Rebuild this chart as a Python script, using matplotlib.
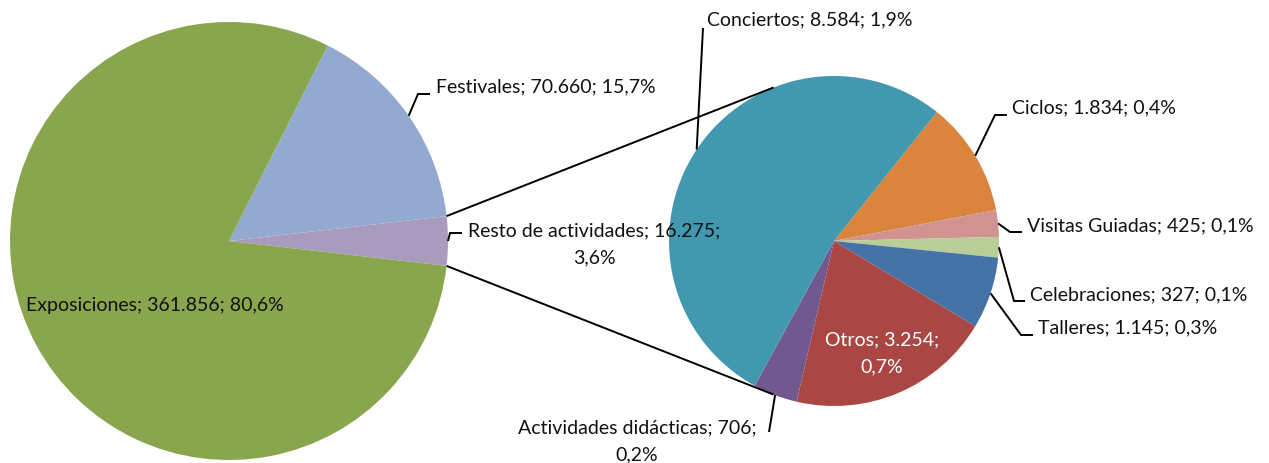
import numpy as np
import matplotlib
matplotlib.use("Agg")
import matplotlib.pyplot as plt

plt.rcParams['font.family'] = ['Lato', 'DejaVu Sans']

# main pie
main_labels = ["Resto de actividades", "Festivales", "Exposiciones"]
main_values = [16275, 70660, 361856]
main_colors = ["#A99BBD", "#93A9CF", "#89A54E"]

# secondary pie (breakdown of "Resto de actividades"), clockwise from the top right
sub_labels = ["Ciclos", "Visitas Guiadas", "Celebraciones", "Talleres", "Otros",
              "Actividades didácticas", "Conciertos"]
sub_values = [1834, 425, 327, 1145, 3254, 706, 8584]
sub_colors = ["#DB843D", "#D19392", "#B9CD96", "#4572A7", "#AA4643", "#71588F", "#4198AF"]

W, H = 1269, 463
total = sum(main_values)


def fmt(name, v, two_lines=False):
    num = format(v, ",").replace(",", ".")
    pct = ("%.1f" % (100.0 * v / total)).replace(".", ",")
    sep = "\n" if two_lines else " "
    return name + "; " + num + ";" + sep + pct + "%"


def P(x, y):
    # pixel (y down) -> axes data (y up)
    return x, H - y


fig = plt.figure(figsize=(W / 100, H / 100), dpi=100)
ax = fig.add_axes([0, 0, 1, 1])

c1, r1 = P(229, 241), 219
c2, r2 = P(834, 241), 165

resto_ang = 360.0 * main_values[0] / total
st1 = -resto_ang / 2
ax.pie(main_values, colors=main_colors, startangle=st1, counterclock=True,
       center=c1, radius=r1, wedgeprops=dict(linewidth=0))
st2 = 51.4
ax.pie(sub_values, colors=sub_colors, startangle=st2, counterclock=False,
       center=c2, radius=r2, wedgeprops=dict(linewidth=0))

# connector lines: slice edges -> tangents of secondary pie
for sgn in (1, -1):
    a = np.radians(sgn * resto_ang / 2)
    px, py = c1[0] + r1 * np.cos(a), c1[1] + r1 * np.sin(a)
    dx, dy = px - c2[0], py - c2[1]
    d = np.hypot(dx, dy)
    base = np.arctan2(dy, dx)
    t = base - sgn * np.arccos(r2 / d)
    tx, ty = c2[0] + r2 * np.cos(t), c2[1] + r2 * np.sin(t)
    ax.plot([px, tx], [py, ty], color="black", lw=1.4, solid_capstyle="butt")


def mid_point(center, r, start, values, i, ccw):
    tot = float(sum(values))
    before = sum(values[:i]) / tot * 360
    half = values[i] / tot * 180
    ang = start + before + half if ccw else start - before - half
    a = np.radians(ang)
    return center[0] + r * np.cos(a), center[1] + r * np.sin(a)


fs = 14
ls = 1.7
# (label text, text pos px, ha, elbow px, stub end px, leader start)
callouts = [
    (fmt("Festivales", main_values[1]), (436, 87), "left", (418, 94), (430, 94),
     mid_point(c1, r1, st1, main_values, 1, True)),
    (fmt("Resto de actividades", main_values[0], True), (594, 244), "center", (450, 233), (462, 233),
     mid_point(c1, r1, st1, main_values, 0, True)),
    (fmt("Conciertos", sub_values[6]), (707, 20), "left", (703, 28), (703, 28),
     mid_point(c2, r2, st2, sub_values, 6, False)),
    (fmt("Ciclos", sub_values[0]), (1012, 108), "left", (995, 115), (1007, 115),
     mid_point(c2, r2, st2, sub_values, 0, False)),
    (fmt("Visitas Guiadas", sub_values[1]), (1027, 226), "left", (1010, 232), (1022, 232),
     mid_point(c2, r2, st2, sub_values, 1, False)),
    (fmt("Celebraciones", sub_values[2]), (1030, 295), "left", (1014, 301), (1025, 301),
     mid_point(c2, r2, st2, sub_values, 2, False)),
    (fmt("Talleres", sub_values[3]), (1038, 328), "left", (1021, 335), (1033, 335),
     mid_point(c2, r2, st2, sub_values, 3, False)),
    (fmt("Actividades didácticas", sub_values[5], True), (637, 441), "center", (769, 432), (769, 432),
     mid_point(c2, r2, st2, sub_values, 5, False)),
]

for txt, tp, ha, elbow, stub, start in callouts:
    ex, ey = P(*elbow)
    sx, sy = P(*stub)
    ax.plot([start[0], ex, sx], [start[1], ey, sy], color="black", lw=1.4,
            solid_capstyle="butt", solid_joinstyle="miter")
    ax.text(*P(*tp), txt, ha=ha, va="center", fontsize=fs, linespacing=ls, color="#111111")

# labels inside slices
ax.text(*P(26, 306), fmt("Exposiciones", main_values[2]), ha="left", va="center",
        fontsize=fs, color="#111111")
ax.text(*P(882, 353), fmt("Otros", sub_values[4], True), ha="center", va="center",
        fontsize=fs, linespacing=ls, color="white")

ax.set_xlim(0, W)
ax.set_ylim(0, H)
ax.set_aspect("equal")
ax.axis("off")

fig.savefig("out.png", dpi=100, facecolor="white")
